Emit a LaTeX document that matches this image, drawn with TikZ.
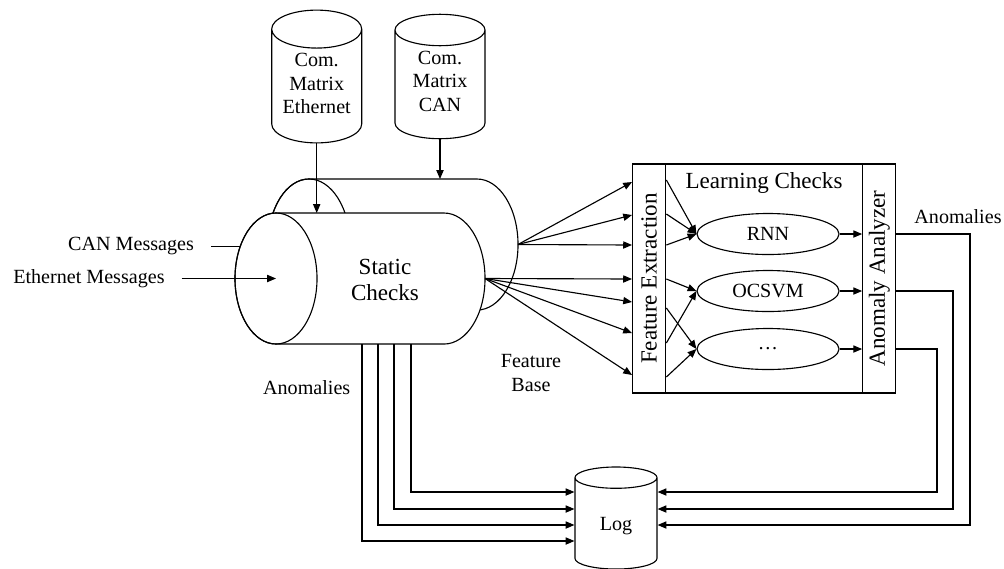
\documentclass[tikz,border=0pt]{standalone}
\usepackage{graphicx}
\usepackage{fontspec}
\setmainfont{Liberation Serif}
\usetikzlibrary{shapes.geometric}
\usetikzlibrary{arrows.meta,backgrounds}

\newcommand{\lbl}{\fontsize{14.3}{16.7}\selectfont}
\newcommand{\ttl}{\fontsize{16.4}{18.7}\selectfont}

\tikzset{
  base/.style={draw, line width=0.8pt},
  db/.style={base, cylinder, shape border rotate=90, aspect=0.49, fill=white, align=center, font=\lbl, anchor=shape center},
  tuberad/.style={x radius=1.025cm, y radius=1.6375cm},
  bar/.style={base, minimum width=0.83cm, minimum height=5.725cm, inner sep=0pt, font=\ttl},
  model/.style={base, ellipse, minimum width=3.55cm, minimum height=1.025cm, font=\lbl},
  arr/.style={line width=0.8pt, -{Triangle[length=0.22cm,width=0.18cm]}},
  wire/.style={line width=0.8pt},
}

\begin{document}
\begin{tikzpicture}[x=0.025cm, y=-0.025cm]
\useasboundingbox (0,0) rectangle (1004,568);
%\draw[thin, opacity=0.3] (0,0) grid[step=50] (1000,550);

%%% inputs

% communication matrices
\node[db, minimum width=2.25cm, minimum height=3.075cm, text depth=10pt] (ethdb) at (316.7,76.5) {Com.\\Matrix\\Ethernet};
\node[db, minimum width=2.25cm, minimum height=3.075cm, text depth=10pt] (candb) at (440,76.5) {Com.\\Matrix\\CAN};

% static checks: back tube
\draw[base, fill=white] (309,179) -- (477,179) arc[start angle=90, end angle=-90, tuberad] -- (309,310) arc[start angle=270, end angle=90, tuberad] -- cycle;
\draw[base] (309,244.5) ellipse[tuberad];
% static checks: front tube
\draw[base, fill=white] (276,213) -- (444,213) arc[start angle=90, end angle=-90, tuberad] -- (276,344) arc[start angle=270, end angle=90, tuberad] -- cycle;
\draw[base] (276,278.5) ellipse[tuberad];

\coordinate (backtop) at (393,179);
\coordinate (backend) at (518,244.5);
\coordinate (fronttop) at (360,213);
\coordinate (frontbot) at (360,344);
\coordinate (frontcap) at (276,278.5);
\coordinate (frontend) at (485,278.5);
\node[font=\ttl, align=center] (static) at (385,280) {Static\\Checks};

% messages
\node[font=\lbl, anchor=east, inner xsep=0.42cm] (canmsg) at (211,246.5) {CAN Messages};
\node[font=\lbl, anchor=east, inner xsep=0.42cm] (ethmsg) at (181.7,278.5) {Ethernet Messages};
\begin{scope}[on background layer]
\draw[wire] (canmsg.east) -- (canmsg.east -| frontcap) ;
\end{scope}
\draw[arr] (ethmsg.east) -- (frontcap);

\draw[arr] (ethdb.south) -- (ethdb.south |- fronttop);
\draw[arr] (candb.south) -- (candb.south |- backtop);

%%% learning part

% boxes
\node[bar] (fe) at (649.2,278.5) {\rotatebox{90}{Feature Extraction}};
\node[base, minimum width=4.925cm, minimum height=5.725cm] (lc) at (764.2,278.5) {};
\node[bar] (aa) at (879.3,278.5) {\rotatebox{90}{Anomaly Analyzer}};
\node[font=\ttl] (lctitle) at (764,183.3) {Learning Checks};

% models
\node[model] (rnn) at (768,234) {RNN};
\node[model] (ocsvm) at (768,291) {OCSVM};
\node[model] (dots) at (768,349) {\dots};

% feature base
\foreach \y in {182,215,245}
  \draw[arr] (backend) -- (fe.west |- 0,\y);
\foreach \y in {279,302,333,375}
  \draw[arr] (frontend) -- (fe.west |- 0,\y);
\foreach \y/\e in {180/rnn,214/rnn,245/rnn,279/ocsvm,308/dots,343/ocsvm,377/dots}
  \draw[arr] (fe.east |- 0,\y) -- (\e.west);
\foreach \e in {rnn,ocsvm,dots}
  \draw[arr] (\e.east) -- (\e.east -| aa.west);

%%% log

\node[db, minimum width=2.05cm, minimum height=2.55cm, aspect=0.51] (log) at (616,518) {Log};

\foreach \x/\y in {362/541,378/525,394/509,411/492}
  \draw[arr] (frontbot -| \x,0) |- (log.west |- 0,\y);
\foreach \e/\x/\y in {rnn/970/525,ocsvm/953/509,dots/937/492}
  \draw[arr] (\e.east -| aa.east) -| (\x,\y) -- (log.east |- 0,\y);

% labels
\node[font=\lbl] (anomleft) at (306.7,388) {Anomalies};
\node[font=\lbl, align=center] (featbase) at (531,373) {Feature\\Base};
\node[font=\lbl] (anomright) at (958,216.7) {Anomalies};

\end{tikzpicture}
\end{document}
